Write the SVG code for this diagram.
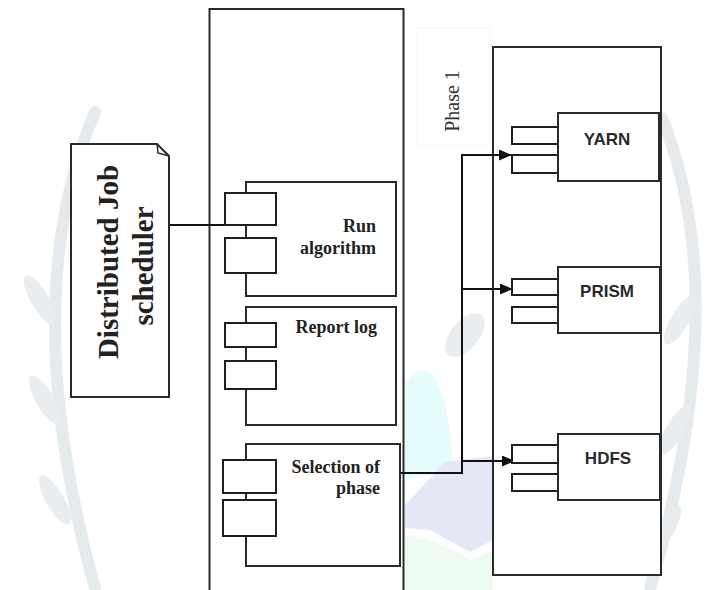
<svg xmlns="http://www.w3.org/2000/svg" width="715" height="590" viewBox="0 0 715 590">
<defs>
<style>
.box{fill:#fff;stroke:#2a2a2a;stroke-width:2}
.port{fill:#fff;stroke:#1e1e1e;stroke-width:2}
.wire{fill:none;stroke:#111;stroke-width:2}
.serif{font-family:"Liberation Serif","Times New Roman",serif;font-weight:bold;fill:#222}
.sans{font-family:"Liberation Sans",Arial,sans-serif;font-weight:bold;font-size:17px;fill:#2a2a2a;text-anchor:middle}
.wm{fill:none;stroke:#dde3e7;stroke-linecap:round}
.leaf{fill:#e3e8eb}
</style>
<marker id="arr" markerWidth="13" markerHeight="11" refX="13" refY="5.5" orient="auto" markerUnits="userSpaceOnUse">
<path d="M0,0 L13,5.5 L0,11 Z" fill="#111"/>
</marker>
</defs>
<rect width="715" height="590" fill="#fff"/>
<g id="watermark" opacity="0.75">
<path class="wm" d="M95,112 Q15,300 95,588" stroke-width="12"/>
<path class="wm" d="M662,118 Q735,300 650,588" stroke-width="12"/>
<ellipse class="leaf" cx="40" cy="300" rx="9" ry="28" transform="rotate(-30 40 300)"/>
<ellipse class="leaf" cx="45" cy="400" rx="9" ry="28" transform="rotate(-30 45 400)"/>
<ellipse class="leaf" cx="55" cy="500" rx="9" ry="28" transform="rotate(-30 55 500)"/>
<ellipse class="leaf" cx="680" cy="320" rx="9" ry="28" transform="rotate(30 680 320)"/>
<ellipse class="leaf" cx="675" cy="430" rx="9" ry="28" transform="rotate(30 675 430)"/>
<ellipse class="leaf" cx="665" cy="530" rx="9" ry="28" transform="rotate(30 665 530)"/>
<ellipse class="leaf" cx="465" cy="335" rx="14" ry="26" transform="rotate(40 465 335)"/>
<path d="M405,480 L405,385 Q415,365 430,372 Q452,400 452,470 Z" fill="#dbfbfb"/>
<path d="M405,505 L445,462 L493,456 L493,540 L470,552 L430,530 L405,528 Z" fill="#dcdff4"/>
<path d="M405,535 Q440,540 470,560 L493,550 L493,590 L405,590 Z" fill="#e8faec"/>
</g>
<g id="phase-label">
<rect x="417" y="28" width="73" height="117" fill="#fff" stroke="#f7f7f7" stroke-width="1"/>
<text transform="translate(459,101) rotate(-90)" text-anchor="middle" font-family="'Liberation Serif','Times New Roman',serif" font-size="20" fill="#333">Phase 1</text>
</g>
<g id="main-container">
<rect class="box" x="209.5" y="9" width="194" height="590"/>
</g>
<g id="phase-container">
<rect class="box" x="493" y="47" width="168" height="528"/>
</g>
<g id="connectors">
<line class="wire" x1="169" y1="225" x2="225" y2="225"/>
<polyline class="wire" points="400,473 462,473 462,155 512,155" marker-end="url(#arr)"/>
<line class="wire" x1="462" y1="289" x2="513" y2="289" marker-end="url(#arr)"/>
<line class="wire" x1="462" y1="461" x2="515" y2="461" marker-end="url(#arr)"/>
</g>
<g id="scheduler">
<path class="box" d="M71,144 H157 L169,156 V397 H71 Z"/>
<path d="M157,144 L158,153 L169,156" fill="none" stroke="#2a2a2a" stroke-width="1.5"/>
<text class="serif" font-size="29" text-anchor="middle" transform="translate(118,262) rotate(-90)">Distributed Job</text>
<text class="serif" font-size="29" text-anchor="middle" transform="translate(153,266) rotate(-90)">scheduler</text>
</g>
<g id="run-algorithm">
<rect class="box" x="246" y="182" width="150" height="114"/>
<rect class="port" x="225" y="193" width="51" height="32"/>
<rect class="port" x="225" y="238" width="51" height="35"/>
<text class="serif" font-size="18" text-anchor="end" x="376" y="232">Run</text>
<text class="serif" font-size="18" text-anchor="end" x="376" y="254">algorithm</text>
</g>
<g id="report-log">
<rect class="box" x="246" y="307" width="150" height="118"/>
<rect class="port" x="225" y="323" width="51" height="24"/>
<rect class="port" x="225" y="361" width="51" height="28"/>
<text class="serif" font-size="18" text-anchor="end" x="377" y="333">Report log</text>
</g>
<g id="selection-of-phase">
<rect class="box" x="246" y="444" width="154" height="122"/>
<rect class="port" x="223" y="460" width="53" height="33"/>
<rect class="port" x="223" y="500" width="53" height="36"/>
<text class="serif" font-size="18" text-anchor="end" x="380" y="473">Selection of</text>
<text class="serif" font-size="18" text-anchor="end" x="380" y="494">phase</text>
</g>
<g id="yarn">
<rect class="port" x="512" y="127" width="46" height="17"/>
<rect class="port" x="512" y="155" width="46" height="18"/>
<rect class="box" x="558" y="113" width="101" height="68"/>
<text class="sans" x="607" y="145">YARN</text>
</g>
<g id="prism">
<rect class="port" x="512" y="279" width="46" height="16"/>
<rect class="port" x="512" y="307" width="46" height="16"/>
<rect class="box" x="558" y="267" width="102" height="66"/>
<text class="sans" x="607" y="297">PRISM</text>
</g>
<g id="hdfs">
<rect class="port" x="512" y="445" width="46" height="18"/>
<rect class="port" x="512" y="474" width="46" height="17"/>
<rect class="box" x="558" y="434" width="102" height="66"/>
<text class="sans" x="608" y="464">HDFS</text>
</g>
</svg>
